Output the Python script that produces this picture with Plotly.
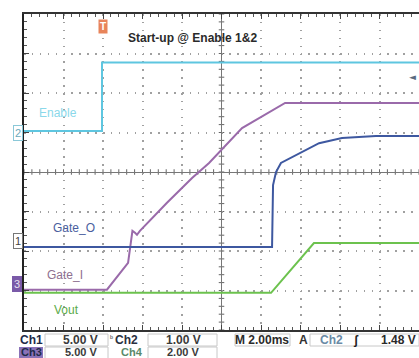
import plotly.graph_objects as go

# ---- data (time in ms, 2 ms/div; amplitude in screen divisions) ----
enable_t = [-10, -6.05, -6.05, 10]
enable_v = [1.04, 1.04, 2.77, 2.77]

gate_i_t = [-10, -5.80, -4.73, -4.58, -4.51, -4.38, -4.28, -4.13, -2.76, -1.49, -0.63, 1.04, 3.22, 10]
gate_i_v = [-2.98, -2.98, -2.30, -1.77, -1.49, -1.54, -1.59, -1.49, -0.78, -0.15, 0.23, 1.11, 1.75, 1.75]

gate_o_t = [-10, 2.56, 2.61, 2.76, 3.01, 3.57, 4.43, 4.94, 6.10, 7.82, 10]
gate_o_v = [-1.90, -1.90, -0.33, 0.0, 0.23, 0.38, 0.61, 0.73, 0.86, 0.91, 0.91]

vout_t = [-10, 2.51, 4.68, 10]
vout_v = [-3.06, -3.06, -1.80, -1.80]

title_text = "Start-up @ Enable 1&2"
labels = ["Enable", "Gate_O", "Gate_I", "Vout"]

C_EN = "#5ec6e0"
C_GO = "#3e58a0"
C_GI = "#9a6aaa"
C_VO = "#6cc24e"

W, H = 419, 358
L, T, B = 24, 14, 28
PW, PH = W - L, H - T - B


def px(x):
    return (x - L) / PW


def py(y):
    return (T + PH - y) / PH


fig = go.Figure()
fig.add_trace(go.Scatter(x=enable_t, y=enable_v, mode="lines", line=dict(color=C_EN, width=2), name=labels[0]))
fig.add_trace(go.Scatter(x=gate_i_t, y=gate_i_v, mode="lines", line=dict(color=C_GI, width=2), name=labels[2]))
fig.add_trace(go.Scatter(x=gate_o_t, y=gate_o_v, mode="lines", line=dict(color=C_GO, width=2), name=labels[1]))
fig.add_trace(go.Scatter(x=vout_t, y=vout_v, mode="lines", line=dict(color=C_VO, width=2), name=labels[3]))

shapes = []
# center crosshair ticks
for i in range(-25, 26):
    xv = i * 0.4
    shapes.append(dict(type="line", xref="x", yref="y", x0=xv, x1=xv, y0=-0.07, y1=0.07,
                       line=dict(color="#666", width=1), layer="below"))
for i in range(-20, 21):
    yv = i * 0.2
    shapes.append(dict(type="line", xref="x", yref="y", x0=-0.14, x1=0.14, y0=yv, y1=yv,
                       line=dict(color="#666", width=1), layer="below"))
# status boxes
for (x0, x1) in [(45, 108), (148, 217), (235, 290), (310, 419)]:
    shapes.append(dict(type="rect", xref="paper", yref="paper", x0=px(x0), x1=px(x1),
                       y0=py(346), y1=py(334), line=dict(color="#c8c8c8", width=1)))
for (x0, x1) in [(45, 108), (148, 217)]:
    shapes.append(dict(type="rect", xref="paper", yref="paper", x0=px(x0), x1=px(x1),
                       y0=py(360), y1=py(347), line=dict(color="#c8c8c8", width=1)))
# Ch3 highlight
shapes.append(dict(type="rect", xref="paper", yref="paper", x0=px(19), x1=px(43),
                   y0=py(360), y1=py(347), fillcolor="#8a72b8", line=dict(width=0)))

ann = []
ann.append(dict(x=-1.49, y=3.39, xref="x", yref="y", text="<b>" + title_text + "</b>",
                showarrow=False, font=dict(size=12, color="#2a2a2a", family="Liberation Sans")))
ann.append(dict(x=-8.30, y=1.49, text=labels[0], showarrow=False, font=dict(size=12, color="#8ad8ea", family="Liberation Sans")))
ann.append(dict(x=-7.47, y=-1.42, text=labels[1], showarrow=False, font=dict(size=12, color="#4a5e9e", family="Liberation Sans")))
ann.append(dict(x=-7.92, y=-2.61, text=labels[2], showarrow=False, font=dict(size=12, color="#8e7090", family="Liberation Sans")))
ann.append(dict(x=-7.85, y=-3.49, text=labels[3], showarrow=False, font=dict(size=12, color="#5aaa48", family="Liberation Sans")))

# channel ground markers
ann.append(dict(x=px(13), y=py(133), xref="paper", yref="paper", text="2", showarrow=False,
                font=dict(size=11, color="#6aaabb", family="Liberation Sans"),
                bgcolor="white", bordercolor="#8ac8d8", borderwidth=1, borderpad=1))
ann.append(dict(x=px(13), y=py(249), xref="paper", yref="paper", text="1", showarrow=False,
                font=dict(size=11, color="#444", family="Liberation Sans"),
                bgcolor="white", bordercolor="#777", borderwidth=1, borderpad=1))
ann.append(dict(x=px(12), y=py(292), xref="paper", yref="paper", text="3", showarrow=False,
                font=dict(size=11, color="#e8e0f0", family="Liberation Sans"),
                bgcolor="#7a5aa8", bordercolor="#7a5aa8", borderwidth=1, borderpad=1))
# trigger markers
ann.append(dict(x=-6.0, y=3.68, text="<b>T</b>", showarrow=False,
                font=dict(size=10, color="white", family="Liberation Sans"),
                bgcolor="#e8845a", borderpad=1))
ann.append(dict(x=9.65, y=2.41, text="◄", showarrow=False,
                font=dict(size=9, color="#5a6a80", family="DejaVu Sans")))

# status bar
def st(x, y, text, color="#333", size=12, xanchor="center"):
    ann.append(dict(x=px(x), y=py(y), xref="paper", yref="paper", text="<b>" + text + "</b>",
                    showarrow=False, xanchor=xanchor, yanchor="middle",
                    font=dict(size=size, color=color, family="Liberation Sans")))


R1, R2 = 340, 352
st(31, R1, "Ch1", "#1e2a48")
st(80.5, R1, "5.00 V", "#3a3a3a")
st(111, R1 - 2, "ᵇ", "#777", size=8)
st(126.5, R1, "Ch2", "#2a3040")
st(183, R1, "1.00 V", "#3a3a3a")
st(262, R1, "M 2.00ms", "#2a2a2a")
st(303, R1, "A", "#333")
st(331, R1, "Ch2", "#6a8aa6")
st(356, R1, "ʃ", "#222")
st(398, R1, "1.48 V", "#2a2a2a")
st(31, R2, "Ch3", "#1e2a48", size=11)
st(80.5, R2, "5.00 V", "#3a3a3a", size=11)
st(132, R2, "Ch4", "#5a8a6a", size=11)
st(183, R2, "2.00 V", "#3a3a3a", size=11)

fig.update_layout(
    width=W, height=H,
    margin=dict(l=L, r=0, t=T, b=B),
    paper_bgcolor="white", plot_bgcolor="white",
    showlegend=False,
    shapes=shapes, annotations=ann,
    xaxis=dict(range=[-10, 10], dtick=2, showticklabels=False,
               showgrid=True, gridcolor="#a0a0a0", gridwidth=1.5, griddash="1.5px,6.4px",
               zeroline=True, zerolinecolor="#777", zerolinewidth=1,
               showline=True, linecolor="#333", linewidth=2, mirror="allticks",
               ticks="inside", ticklen=5, tickcolor="#444",
               minor=dict(dtick=0.4, ticks="inside", ticklen=3, tickcolor="#555", showgrid=False)),
    yaxis=dict(range=[-4, 4], dtick=1, showticklabels=False,
               showgrid=True, gridcolor="#a0a0a0", gridwidth=1.5, griddash="1.5px,6.4px",
               zeroline=True, zerolinecolor="#777", zerolinewidth=1,
               showline=True, linecolor="#222", linewidth=2, mirror=False,
               ticks="inside", ticklen=5, tickcolor="#444",
               minor=dict(dtick=0.2, ticks="inside", ticklen=3, tickcolor="#555", showgrid=False)),
)

fig.write_html("out.html", config={"displayModeBar": False},
               post_script="document.body.style.margin='0';document.body.style.overflow='hidden';")
